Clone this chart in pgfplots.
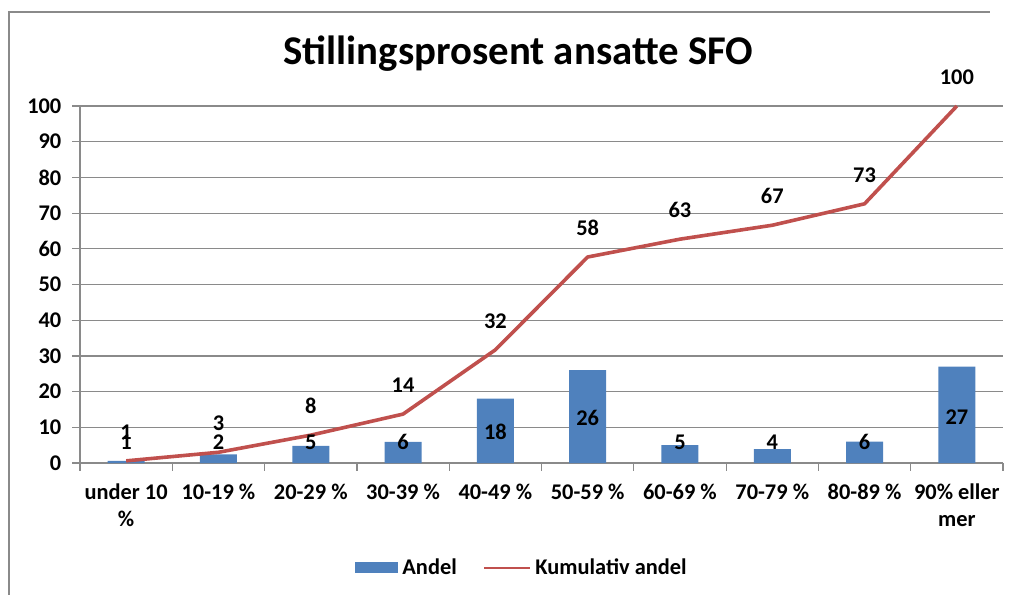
\documentclass[border=0pt]{standalone}
\usepackage{pgfplots}
\pgfplotsset{compat=1.18}
\usepackage{fontspec}
\setmainfont{Carlito}
\definecolor{barblue}{HTML}{4F81BD}
\definecolor{linered}{HTML}{C0504D}
\definecolor{gridgray}{HTML}{8A8A8A}
\begin{document}
\begin{tikzpicture}[font=\fontsize{11.2}{13.5}\selectfont\bfseries]
\useasboundingbox (-40pt,-65.5pt) rectangle (468pt,231.5pt);
\draw[gridgray, line width=1.1pt] (-35.5pt,-66pt) -- (-35.5pt,226pt);
\draw[gridgray, line width=1.1pt] (-36pt,225.5pt) -- (455pt,225.5pt);
\node[font=\fontsize{20.4}{24}\selectfont\bfseries, anchor=base] at (219.25pt,199pt) {Stillingsprosent ansatte SFO};
\begin{axis}[
  at={(0pt,0pt)}, anchor=south west,
  scale only axis, width=461.5pt, height=178.5pt,
  xmin=-0.5, xmax=9.5, ymin=0, ymax=100,
  axis lines*=left,
  axis line style={gridgray, line width=0.8pt},
  ytick={0,10,...,100},
  xtick={-0.5,0.5,...,9.5}, xticklabels={},
  extra x ticks={0,1,2,3,4,5,6,7,8,9},
  extra x tick labels={{under 10\\\%},{10-19 \%},{20-29 \%},{30-39 \%},{40-49 \%},{50-59 \%},{60-69 \%},{70-79 \%},{80-89 \%},{90\% eller\\mer}},
  extra x tick style={grid=none, major tick length=0pt, tick style={draw=none},
     xticklabel style={align=center, anchor=north, yshift=-7pt}},
  ymajorgrids, grid style={gridgray, line width=0.6pt},
  tick align=outside, major tick length=3.8pt,
  tick style={gridgray, line width=0.6pt},
  yticklabel style={anchor=east, xshift=-2pt},
  /pgf/number format/assume math mode=true,
  tick label style={font=\fontsize{11.2}{13.5}\selectfont\bfseries},
  legend columns=2,
  legend style={at={(0.48,-0.294)}, anchor=center, draw=none, fill=none,
     font=\fontsize{11.2}{13.5}\selectfont\bfseries,
     /tikz/every even column/.append style={column sep=11pt}},
  clip=false,
]
\addplot[ybar, bar width=18.5pt, fill=barblue, draw=none,
  legend image code/.code={\fill[barblue] (0pt,-2.75pt) rectangle (21.5pt,2.75pt);}]
  table[x=x, y=y] {
x y
0 0.6
1 2.4
2 4.8
3 5.9
4 18.0
5 26.0
6 5.0
7 3.9
8 6.0
9 27.0
};
\addlegendentry{Andel}
\addplot[linered, line width=1.8pt, line join=round, mark=none,
  nodes near coords, point meta=explicit symbolic,
  nodes near coords style={anchor=center, yshift=14.5pt, text=black},
  legend image code/.code={\draw[linered, line width=1.3pt] (0pt,0pt) -- (23pt,0pt);}]
  table[x=x, y=y, meta=lab] {
x y lab
0 0.6 1
1 3.0 3
2 7.8 8
3 13.7 14
4 31.7 32
5 57.7 58
6 62.7 63
7 66.6 67
8 72.6 73
9 100 100
};
\addlegendentry{Kumulativ andel}
\addplot[draw=none, mark=none, forget plot,
  nodes near coords, point meta=explicit symbolic,
  nodes near coords style={anchor=center, text=black}]
  table[x=x, y=y, meta=lab] {
x y lab
0 5.7 1
1 5.9 2
2 5.9 5
3 5.9 6
4 8.8 18
5 12.7 26
6 5.9 5
7 5.9 4
8 5.9 6
9 12.9 27
};
\end{axis}
\end{tikzpicture}
\end{document}
